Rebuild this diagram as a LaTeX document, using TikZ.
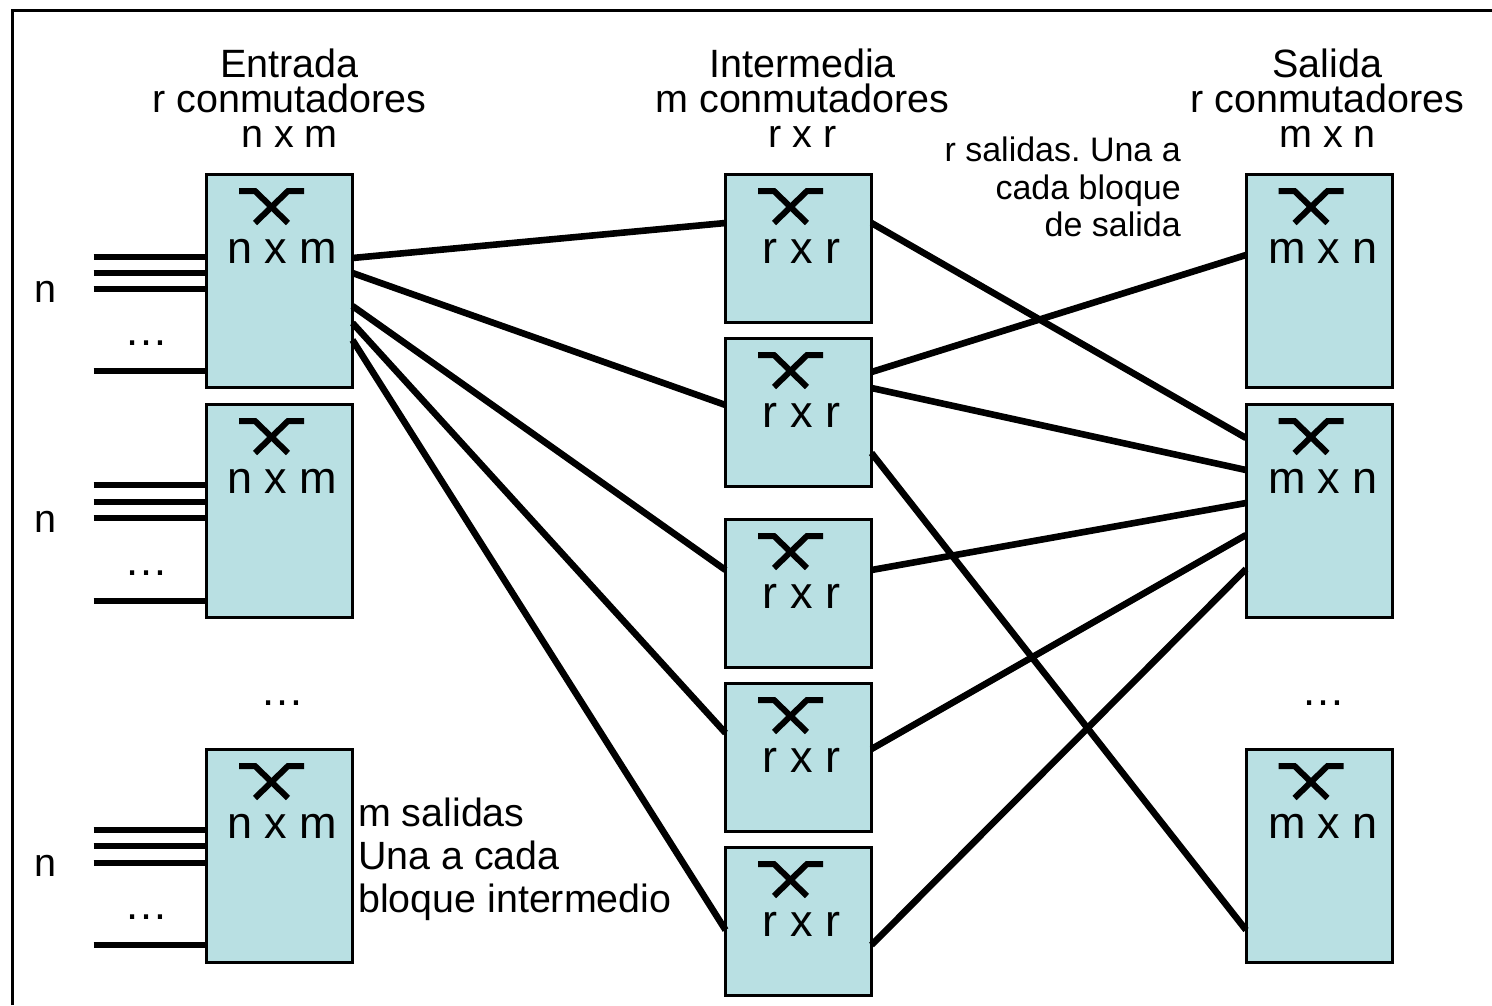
\documentclass[tikz,border=0pt]{standalone}
\usepackage{fontspec}
\setmainfont{Liberation Sans}
\usetikzlibrary{calc}
\definecolor{boxfill}{RGB}{185,224,227}
\tikzset{
  x=1pt,y=-1pt,
  swbox/.style={draw=black,line width=3pt,fill=boxfill,minimum width=146pt,inner sep=0pt,outer sep=0pt},
  wire/.style={line width=6.6pt,draw=black},
  stub/.style={line width=6pt,draw=black},
  swicon/.style={line width=6pt,draw=black},
  boxlabel/.style={font=\fontsize{45}{45}\selectfont,anchor=base,inner sep=0pt},
  title/.style={font=\fontsize{39.5}{35}\selectfont,align=center,anchor=base,inner sep=0pt},
  side/.style={font=\fontsize{39.4}{43}\selectfont,align=left,anchor=north west,inner sep=0pt},
  note/.style={font=\frenchspacing\fontsize{34}{37.5}\selectfont,align=right,anchor=north east,inner sep=0pt},
  plain/.style={font=\fontsize{39.5}{39.5}\selectfont,anchor=base,inner sep=0pt},
  dots/.style={font=\fontsize{44}{44}\selectfont,anchor=base,inner sep=0pt}
}
\newcommand{\swblock}[6]{% name, cx, top, height, label, label dx
  \node[swbox,minimum height=#4 pt,anchor=north] (#1) at (#2,#3) {};
  \draw[swicon] ($(#1.north)+(-40.5,17)$) -- ++(16,0) -- ++(33,32);
  \draw[swicon] ($(#1.north)+(24.5,17)$) -- ++(-16,0) -- ++(-33,32);
  \node[boxlabel] (#1l) at ($(#1.north)+(#6,89)$) {#5};
}
\begin{document}
\begin{tikzpicture}
\useasboundingbox (0,0) rectangle (1492,1005);
\fill[white] (0,0) rectangle (1492,1005);
\coordinate (fa) at (12,1005);
\coordinate (fb) at (12,10);
\coordinate (fc) at (1492,10);
\draw[line width=3pt] (fa) -- (fb) -- (fc);

\swblock{e1}{279.5}{174}{213}{n x m}{3}
\swblock{e2}{279.5}{404}{213}{n x m}{3}
\swblock{e3}{279.5}{749}{213}{n x m}{3}
\swblock{m1}{798.5}{174}{148}{r x r}{3}
\swblock{m2}{798.5}{338}{148}{r x r}{3}
\swblock{m3}{798.5}{519}{148}{r x r}{3}
\swblock{m4}{798.5}{683}{148}{r x r}{3}
\swblock{m5}{798.5}{847}{148}{r x r}{3}
\swblock{s1}{1319}{174}{213}{m x n}{4}
\swblock{s2}{1319}{404}{213}{m x n}{4}
\swblock{s3}{1319}{749}{213}{m x n}{4}

\node[title] (t1) at (289.5,147) {Entrada\\r conmutadores\\n x m};
\node[title] (t2) at (802.5,147) {Intermedia\\m conmutadores\\r x r};
\node[title] (t3) at (1327.5,147) {Salida\\r conmutadores\\m x n};

% input stubs
\foreach \b/\ya/\yb/\yc/\yd in {e1/83/98.5/115/197,e2/81/98/114/197,e3/81/97/114/196}{
  \foreach \o/\y in {a/\ya,b/\yb,c/\yc,d/\yd}{
    \coordinate (\b\o) at ($(\b.north west)+(-113,0)+(0,\y)$);
    \draw[stub] (\b\o) -- ($(\b.north west)+(0,\y)$);
  }
}
\node[plain] (n1) at (45,302) {n};
\node[plain] (n2) at (45,532) {n};
\node[plain] (n3) at (45,876) {n};
\node[dots] (d1) at (146,345) {…};
\node[dots] (d2) at (146,575) {…};
\node[dots] (d3) at (146,919) {…};
\node[dots] (d4) at (282,705) {…};
\node[dots] (d5) at (1323,705) {…};

% first stage to middle
\draw[wire] ($(e1.north east)+(0,84)$) -- ($(m1.north west)+(0,49)$);
\draw[wire] ($(e1.north east)+(0,99)$) -- ($(m2.north west)+(0,67)$);
\draw[wire] ($(e1.north east)+(0,132)$) -- ($(m3.north west)+(0,51)$);
\draw[wire] ($(e1.north east)+(0,149)$) -- ($(m4.north west)+(0,50)$);
\draw[wire] ($(e1.north east)+(0,166)$) -- ($(m5.north west)+(0,83)$);
% middle to last stage
\draw[wire] ($(m1.north east)+(0,49)$) -- ($(s2.north west)+(0,34)$);
\draw[wire] ($(m2.north east)+(0,34)$) -- ($(s1.north west)+(0,81)$);
\draw[wire] ($(m2.north east)+(0,50)$) -- ($(s2.north west)+(0,66)$);
\draw[wire] ($(m2.north east)+(0,115)$) -- ($(s3.north west)+(0,181)$);
\draw[wire] ($(m3.north east)+(0,51)$) -- ($(s2.north west)+(0,99)$);
\draw[wire] ($(m4.north east)+(0,66)$) -- ($(s2.north west)+(0,131)$);
\draw[wire] ($(m5.north east)+(0,98)$) -- ($(s2.north west)+(0,165)$);

\node[side] (lab1) at (358,798) {m salidas\\Una a cada\\bloque intermedio};
\node[note] (lab2) at (1181,137) {r salidas. Una a\\cada bloque\\de salida};
\end{tikzpicture}
\end{document}
